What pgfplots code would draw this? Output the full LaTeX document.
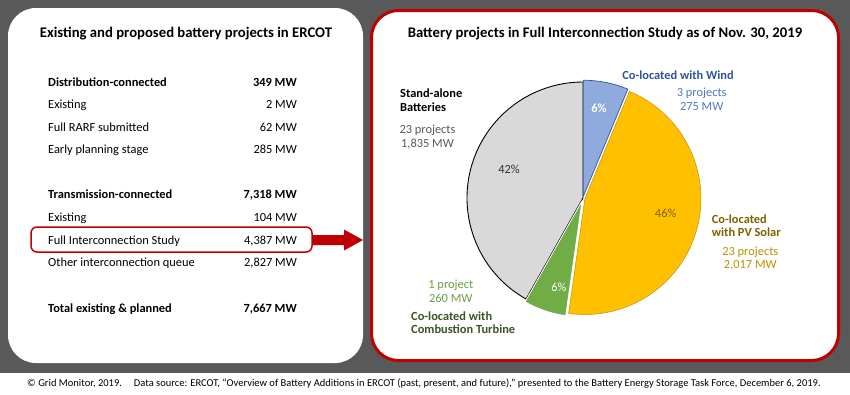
\documentclass[border=0pt]{standalone}
\usepackage{pgfplots}
\pgfplotsset{compat=1.18}
\usepackage{pgfplotstable}
\usepackage{fontspec}
\setmainfont{Carlito}
\definecolor{bg}{HTML}{595959}
\definecolor{ered}{HTML}{C00000}
\definecolor{sgrey}{HTML}{D9D9D9}
\definecolor{swind}{HTML}{8FAADC}
\definecolor{swindd}{HTML}{2F5597}
\definecolor{swindl}{HTML}{4F78C8}
\definecolor{ssolar}{HTML}{FFC000}
\definecolor{ssolard}{HTML}{7F6000}
\definecolor{ssolarm}{HTML}{BF9000}
\definecolor{sgreen}{HTML}{70AD47}
\definecolor{sgreend}{HTML}{375623}
\definecolor{sgreenm}{HTML}{6A9E45}
\definecolor{txtgrey}{HTML}{595959}

\pgfplotstableread{
seg value explode
Wind 275 1.8
Solar 2017 2
Turbine 260 3
Standalone 1835 0
}\piedata

\newcommand\fs[1]{\fontsize{#1}{#1}\selectfont}

\begin{document}
\begin{tikzpicture}
\pgfplotstablegetelem{0}{value}\of\piedata \edef\vA{\pgfplotsretval}
\pgfplotstablegetelem{1}{value}\of\piedata \edef\vB{\pgfplotsretval}
\pgfplotstablegetelem{2}{value}\of\piedata \edef\vC{\pgfplotsretval}
\pgfplotstablegetelem{3}{value}\of\piedata \edef\vD{\pgfplotsretval}
\pgfplotstablegetelem{0}{explode}\of\piedata \edef\eA{\pgfplotsretval}
\pgfplotstablegetelem{1}{explode}\of\piedata \edef\eB{\pgfplotsretval}
\pgfplotstablegetelem{2}{explode}\of\piedata \edef\eC{\pgfplotsretval}
\pgfplotstablegetelem{3}{explode}\of\piedata \edef\eD{\pgfplotsretval}
\pgfmathsetmacro\tot{\vA+\vB+\vC+\vD}
\pgfmathsetmacro\aA{90}
\pgfmathsetmacro\aB{\aA-360*(\vA/\tot)}
\pgfmathsetmacro\aC{\aB-360*(\vB/\tot)}
\pgfmathsetmacro\aD{\aC-360*(\vC/\tot)}
\pgfmathsetmacro\aE{\aD-360*(\vD/\tot)}
\pgfmathsetmacro\oAx{\eA*cos((\aA+\aB)/2)}\pgfmathsetmacro\oAy{\eA*sin((\aA+\aB)/2)}
\pgfmathsetmacro\oBx{\eB*cos((\aB+\aC)/2)}\pgfmathsetmacro\oBy{\eB*sin((\aB+\aC)/2)}
\pgfmathsetmacro\oCx{\eC*cos((\aC+\aD)/2)}\pgfmathsetmacro\oCy{\eC*sin((\aC+\aD)/2)}
\pgfmathsetmacro\oDx{\eD*cos((\aD+\aE)/2)}\pgfmathsetmacro\oDy{\eD*sin((\aD+\aE)/2)}
\def\R{116}
\def\TS{14.7}
\def\BS{12.4}

\begin{scope}[x=1pt,y=-1pt,every node/.append style={inner sep=0pt}]
\fill[white] (0,0) rectangle (850,394);
\fill[bg] (0,0) rectangle (850,373);
\fill[white,rounded corners=28pt] (8,8) rectangle (363,363);
\filldraw[fill=white,draw=ered,line width=3pt,rounded corners=27pt] (371.5,10.5) rectangle (838.5,360.5);

% left panel
\node[anchor=base,font=\fs{\TS}\bfseries] at (186,37.5) {Existing and proposed battery projects in ERCOT};
\draw[ered,line width=1.5pt,rounded corners=6pt] (31,227) rectangle (312,252);
\fill[ered] (312,235) -- (344,235) -- (344,229.5) -- (363,240) -- (344,250.5) -- (344,245) -- (312,245) -- cycle;
\begin{scope}[every node/.append style={font=\fs{\BS}}]
\node[anchor=base west,font=\fs{\BS}\bfseries] at (48,86) {Distribution-connected};
\node[anchor=base east,font=\fs{\BS}\bfseries] at (297,86) {349 MW};
\node[anchor=base west] at (48,108.5) {Existing};
\node[anchor=base east] at (297,108.5) {2 MW};
\node[anchor=base west] at (48,131) {Full RARF submitted};
\node[anchor=base east] at (297,131) {62 MW};
\node[anchor=base west] at (48,153.5) {Early planning stage};
\node[anchor=base east] at (297,153.5) {285 MW};
\node[anchor=base west,font=\fs{\BS}\bfseries] at (48,198.8) {Transmission-connected};
\node[anchor=base east,font=\fs{\BS}\bfseries] at (297,198.8) {7,318 MW};
\node[anchor=base west] at (48,221.2) {Existing};
\node[anchor=base east] at (297,221.2) {104 MW};
\node[anchor=base west] at (48,244.5) {Full Interconnection Study};
\node[anchor=base east] at (297,244.5) {4,387 MW};
\node[anchor=base west] at (48,266.8) {Other interconnection queue};
\node[anchor=base east] at (297,266.8) {2,827 MW};
\node[anchor=base west,font=\fs{\BS}\bfseries] at (48,312.2) {Total existing \& planned};
\node[anchor=base east,font=\fs{\BS}\bfseries] at (297,312.2) {7,667 MW};
\end{scope}

% right panel
\node[anchor=base,font=\fs{\TS}\bfseries] at (605,37) {Battery projects in Full Interconnection Study as of Nov. 30, 2019};
\begin{scope}[every node/.append style={font=\fs{\BS}}]
\node[anchor=base west,font=\fs{\BS}\bfseries] at (400,97.8) {Stand-alone};
\node[anchor=base west,font=\fs{\BS}\bfseries] at (400,111.8) {Batteries};
\node[anchor=base,text=txtgrey] at (427.5,133.8) {23 projects};
\node[anchor=base,text=txtgrey] at (427.5,147.8) {1,835 MW};
\node[anchor=base,font=\fs{\BS}\bfseries,text=swindd] at (678,79.5) {Co-located with Wind};
\node[anchor=base,text=swindl] at (701.7,96.8) {3 projects};
\node[anchor=base,text=swindl] at (701.7,110.5) {275 MW};
\node[anchor=base west,font=\fs{\BS}\bfseries,text=ssolard] at (711.7,223.8) {Co-located};
\node[anchor=base west,font=\fs{\BS}\bfseries,text=ssolard] at (711.7,236.8) {with PV Solar};
\node[anchor=base,text=ssolarm] at (750.3,255.5) {23 projects};
\node[anchor=base,text=ssolarm] at (750.3,268.8) {2,017 MW};
\node[anchor=base,text=sgreenm] at (450.8,288.8) {1 project};
\node[anchor=base,text=sgreenm] at (450.8,302.2) {260 MW};
\node[anchor=base west,font=\fs{\BS}\bfseries,text=sgreend] at (411,320.5) {Co-located with};
\node[anchor=base west,font=\fs{\BS}\bfseries,text=sgreend] at (411,333.8) {Combustion Turbine};
\end{scope}

% footer
\node[anchor=base west,font=\fs{10.5}] at (27,386) {© Grid Monitor, 2019.\hspace{12pt}Data source: ERCOT, “Overview of Battery Additions in ERCOT (past, present, and future),” presented to the Battery Energy Storage Task Force, December 6, 2019.};
\end{scope}

\begin{axis}[at={(583pt,-198pt)}, anchor=origin, x=1pt, y=1pt,
  xmin=-125, xmax=125, ymin=-125, ymax=125, hide axis, clip=false]
\filldraw[fill=sgrey,draw=black,line width=0.9pt,line join=round]
  (axis cs:\oDx,\oDy) -- (axis cs:{\oDx+\R*cos(\aD)},{\oDy+\R*sin(\aD)})
  arc[start angle=\aD,end angle=\aE,radius=\R pt] -- cycle;
\filldraw[fill=swind,draw=swindd,line width=0.7pt,line join=round]
  (axis cs:\oAx,\oAy) -- (axis cs:{\oAx+\R*cos(\aA)},{\oAy+\R*sin(\aA)})
  arc[start angle=\aA,end angle=\aB,radius=\R pt] -- cycle;
\filldraw[fill=ssolar,draw=ssolarm,line width=0.5pt,line join=round]
  (axis cs:\oBx,\oBy) -- (axis cs:{\oBx+\R*cos(\aB)},{\oBy+\R*sin(\aB)})
  arc[start angle=\aB,end angle=\aC,radius=\R pt] -- cycle;
\filldraw[fill=sgreen,draw=white,line width=0.8pt,line join=round]
  (axis cs:\oCx,\oCy) -- (axis cs:{\oCx+\R*cos(\aC)},{\oCy+\R*sin(\aC)})
  arc[start angle=\aC,end angle=\aD,radius=\R pt] -- cycle;
\node[font=\fs{\BS},text=black!80] at (axis cs:-74,28.7) {42\%};
\node[font=\fs{\BS}\bfseries,text=white] at (axis cs:16,89.7) {6\%};
\node[font=\fs{\BS},text=ssolard] at (axis cs:82.7,-15.3) {46\%};
\node[font=\fs{\BS},text=white] at (axis cs:-24,-89.3) {6\%};
\end{axis}
\end{tikzpicture}
\end{document}
